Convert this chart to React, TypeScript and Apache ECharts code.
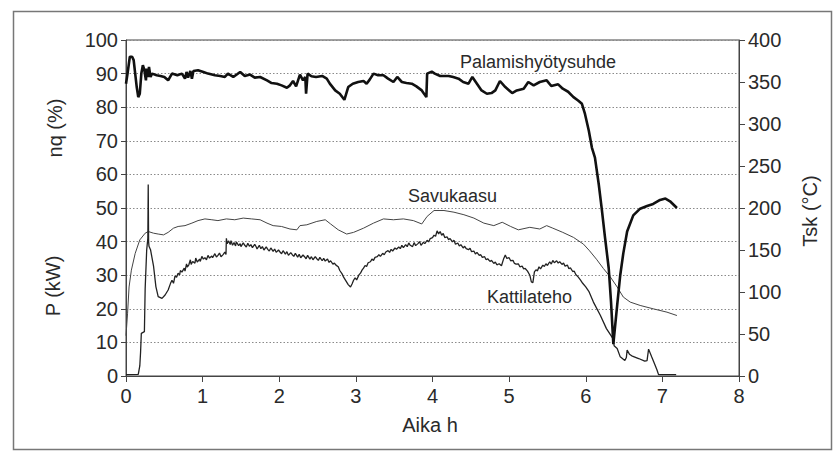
import React, { useEffect, useRef } from "react";
import * as echarts from "echarts";

// Time axis (h) ticks
const xTicks = [0, 1, 2, 3, 4, 5, 6, 7, 8];

// Palamishyötysuhde (%), [h, %]
const palamis: [number, number][] = [
  [0, 87], [0.02, 90], [0.05, 95], [0.08, 95], [0.1, 94], [0.12, 90], [0.14, 86], [0.16, 83], [0.18, 84],
  [0.2, 90], [0.22, 92.5], [0.24, 91], [0.26, 88], [0.27, 91.5], [0.29, 89], [0.3, 92], [0.32, 89], [0.34, 90],
  [0.4, 89.5], [0.45, 89.3], [0.5, 89], [0.55, 88], [0.6, 90], [0.67, 89.5], [0.73, 90], [0.77, 88.5],
  [0.79, 90.5], [0.81, 88.8], [0.84, 90.8], [0.86, 88.5], [0.88, 90.8], [0.94, 91], [1.01, 90.5], [1.07, 90],
  [1.16, 89.5], [1.23, 89.3], [1.29, 89], [1.33, 90], [1.4, 89], [1.45, 89.8], [1.49, 90.5], [1.55, 89.3],
  [1.62, 89.7], [1.68, 88.8], [1.75, 89], [1.84, 88], [1.9, 87.2], [1.97, 87], [2.03, 86.5], [2.1, 85.8],
  [2.14, 86.5], [2.18, 87.8], [2.22, 86.2], [2.27, 89.7], [2.31, 88], [2.34, 89], [2.35, 84], [2.37, 90],
  [2.42, 89.2], [2.48, 89], [2.56, 89.3], [2.62, 88.5], [2.66, 87], [2.73, 85], [2.79, 84], [2.85, 82.2],
  [2.9, 86], [2.96, 87], [3.03, 87.5], [3.1, 87.8], [3.14, 87], [3.18, 88.2], [3.23, 90], [3.29, 89.5],
  [3.36, 89.5], [3.42, 88.5], [3.49, 87.5], [3.54, 89], [3.6, 87.5], [3.66, 87.2], [3.73, 87], [3.79, 86.2],
  [3.86, 85], [3.92, 83], [3.93, 90], [3.99, 90.6], [4.03, 90], [4.1, 89.3], [4.21, 89.3], [4.27, 89],
  [4.34, 88.5], [4.4, 87.5], [4.47, 87], [4.52, 89], [4.58, 87], [4.64, 85], [4.71, 84], [4.77, 84.2],
  [4.82, 85], [4.88, 87.8], [4.95, 86], [5.04, 84.2], [5.1, 85], [5.19, 85.5], [5.25, 87.5], [5.32, 86.5],
  [5.4, 87.5], [5.49, 88], [5.55, 86.3], [5.64, 86.8], [5.7, 85.5], [5.77, 84.6], [5.84, 83], [5.9, 82],
  [5.95, 81], [5.99, 78], [6.04, 73], [6.08, 68], [6.12, 65], [6.17, 57], [6.21, 49.5], [6.25, 41.5],
  [6.3, 32], [6.33, 22], [6.36, 9.5], [6.41, 21], [6.45, 30], [6.49, 36.5], [6.54, 43], [6.62, 47.8],
  [6.71, 49.8], [6.8, 50.6], [6.88, 51.2], [6.97, 52.4], [7.04, 52.8], [7.1, 52], [7.19, 50],
];

// Savukaasu, flue gas temperature Tsk (°C), [h, °C]
const savukaasu: [number, number][] = [
  [0, 48], [0.02, 74], [0.04, 106], [0.07, 126], [0.12, 146], [0.18, 162], [0.25, 170], [0.29, 172],
  [0.36, 170], [0.42, 169], [0.49, 168], [0.55, 171], [0.62, 176], [0.68, 178], [0.77, 179], [0.86, 182],
  [0.94, 185], [1.03, 187], [1.12, 186], [1.2, 185], [1.31, 187], [1.42, 186], [1.53, 188], [1.64, 187],
  [1.75, 186], [1.84, 182], [1.92, 179], [2.03, 178], [2.14, 175], [2.23, 174], [2.27, 179], [2.36, 180],
  [2.49, 184], [2.6, 186], [2.67, 181], [2.77, 174], [2.88, 169], [2.97, 171], [3.1, 176], [3.23, 182],
  [3.36, 187], [3.49, 186], [3.62, 187], [3.75, 185], [3.86, 181], [3.93, 190], [4.02, 197], [4.15, 197],
  [4.28, 195], [4.41, 192], [4.54, 188], [4.67, 182], [4.8, 179], [4.91, 183], [5.02, 178], [5.12, 174],
  [5.27, 177], [5.4, 175], [5.49, 179], [5.57, 176], [5.7, 171], [5.84, 165], [5.97, 157], [6.05, 149],
  [6.14, 139], [6.23, 128], [6.32, 118], [6.41, 106], [6.49, 94], [6.58, 88], [6.71, 84], [6.88, 80],
  [7.06, 76], [7.19, 72],
];

// Kattilateho P (kW), [h, kW]
const kattilateho: [number, number][] = [
  [0, 0.4], [0.16, 0.5], [0.18, 3], [0.19, 7], [0.2, 12.7], [0.24, 13.2], [0.25, 26], [0.27, 37.5],
  [0.285, 41], [0.29, 57], [0.295, 40], [0.3, 38.6], [0.32, 37.6], [0.36, 32.6], [0.39, 26.6], [0.42, 23.6],
  [0.47, 23.1], [0.51, 24.1], [0.55, 25.6], [0.58, 27.5], [0.6, 28.5], [0.62, 27.6], [0.64, 29.8], [0.66, 29.4],
  [0.68, 30.6], [0.7, 30.1], [0.71, 31.4], [0.73, 30.9], [0.76, 32.1], [0.77, 31.2], [0.79, 33.4], [0.8, 32.4],
  [0.82, 33.1], [0.84, 34.6], [0.85, 33.2], [0.87, 34.1], [0.9, 33.6], [0.91, 35.1], [0.93, 33.9], [0.96, 34.8],
  [0.97, 34.1], [0.99, 35.6], [1.01, 34.8], [1.03, 35.2], [1.05, 34.6], [1.07, 35.9], [1.09, 35.1], [1.12, 35.7],
  [1.13, 35.2], [1.16, 36.4], [1.18, 35.4], [1.2, 35.9], [1.22, 36.6], [1.24, 35.5], [1.27, 36.2], [1.29, 36.9],
  [1.305, 36.2], [1.31, 41], [1.32, 39.4], [1.34, 40.2], [1.36, 39.1], [1.37, 40.3], [1.39, 38.9], [1.41, 39.7],
  [1.43, 38.7], [1.44, 39.9], [1.47, 38.8], [1.49, 39.4], [1.5, 38.5], [1.53, 39.6], [1.55, 38.9], [1.57, 38.4],
  [1.59, 39.5], [1.61, 38.6], [1.63, 39.1], [1.65, 38.2], [1.68, 39.2], [1.7, 38.4], [1.71, 37.8], [1.74, 38.9],
  [1.76, 37.9], [1.78, 38.5], [1.8, 37.5], [1.83, 38.4], [1.85, 37.7], [1.87, 37.2], [1.89, 38.1], [1.92, 37.1],
  [1.94, 37.8], [1.96, 36.8], [1.99, 37.5], [2.01, 36.9], [2.03, 36.4], [2.05, 37.3], [2.08, 36.3], [2.1, 37],
  [2.12, 35.9], [2.15, 36.7], [2.17, 36.1], [2.19, 35.6], [2.21, 36.5], [2.24, 35.4], [2.26, 36.2], [2.28, 35.2],
  [2.31, 36], [2.33, 35.5], [2.35, 34.9], [2.37, 35.9], [2.4, 34.8], [2.42, 35.5], [2.44, 34.6], [2.47, 35.5],
  [2.49, 34.9], [2.51, 34.4], [2.53, 35.3], [2.56, 34.3], [2.58, 35], [2.6, 34.2], [2.63, 34.8], [2.65, 33.8],
  [2.67, 34.3], [2.7, 33.3], [2.72, 33.6], [2.74, 33], [2.77, 32.5], [2.79, 31.4], [2.82, 30.4], [2.84, 29.4],
  [2.87, 28.3], [2.9, 27.2], [2.93, 26.5], [2.95, 27.4], [2.97, 28.5], [2.99, 29.2], [3.01, 28.6], [3.04, 30.1],
  [3.06, 30.6], [3.08, 31.5], [3.1, 32.1], [3.12, 32.9], [3.14, 32.6], [3.16, 33.7], [3.19, 34], [3.21, 34.8],
  [3.23, 34.4], [3.25, 35.3], [3.28, 35.5], [3.3, 36.1], [3.32, 35.6], [3.35, 36.5], [3.37, 36.1], [3.39, 36.9],
  [3.42, 37.3], [3.44, 36.8], [3.46, 37.7], [3.48, 37.2], [3.51, 38.1], [3.53, 37.7], [3.56, 38.4], [3.58, 37.9],
  [3.6, 38.9], [3.62, 38.2], [3.65, 39.1], [3.67, 38.5], [3.69, 39.6], [3.71, 38.9], [3.74, 38.5], [3.76, 39.7],
  [3.78, 38.8], [3.81, 39.4], [3.83, 40], [3.85, 38.9], [3.88, 39.8], [3.9, 39.4], [3.93, 40.4], [3.95, 39.9],
  [3.97, 40.9], [4.0, 41.2], [4.02, 41.9], [4.04, 41.6], [4.06, 43.2], [4.08, 42.3], [4.1, 43], [4.12, 41.9],
  [4.14, 42.4], [4.16, 41.2], [4.19, 41.4], [4.21, 40.6], [4.23, 40.9], [4.26, 39.9], [4.28, 40.4], [4.3, 39.2],
  [4.33, 39.6], [4.35, 38.7], [4.37, 39.1], [4.4, 38.1], [4.42, 38.6], [4.44, 37.9], [4.47, 37.6], [4.49, 38],
  [4.51, 37], [4.54, 37.2], [4.56, 36.3], [4.58, 36.8], [4.61, 35.9], [4.63, 36.1], [4.65, 35.3], [4.68, 35.5],
  [4.7, 34.6], [4.72, 34.9], [4.75, 34.1], [4.77, 34.4], [4.8, 33.5], [4.82, 33.9], [4.84, 33.1], [4.87, 33.4],
  [4.9, 32.8], [4.93, 35], [4.95, 36], [4.97, 35], [5.0, 35.2], [5.02, 34.3], [5.05, 34.4], [5.07, 33.5],
  [5.09, 33.3], [5.12, 33.4], [5.14, 32.5], [5.17, 32.7], [5.19, 31.9], [5.21, 32], [5.24, 31.2], [5.27, 30],
  [5.29, 28], [5.31, 27.8], [5.33, 31], [5.35, 31.6], [5.37, 31.3], [5.39, 32.5], [5.41, 31.9], [5.44, 33],
  [5.46, 32.6], [5.48, 33.4], [5.5, 32.9], [5.53, 34], [5.55, 33.3], [5.57, 34.4], [5.59, 33.7], [5.62, 34.3],
  [5.64, 33.6], [5.66, 34], [5.69, 33.2], [5.71, 33.6], [5.73, 32.7], [5.76, 33], [5.78, 31.9], [5.8, 32.2],
  [5.83, 31.1], [5.85, 31.2], [5.87, 30.2], [5.9, 29.5], [5.93, 28.6], [5.96, 27.6], [6.0, 26.5], [6.04, 25.2],
  [6.1, 22], [6.19, 18.1], [6.27, 14.1], [6.36, 11], [6.37, 9], [6.41, 8.2], [6.45, 5.7], [6.51, 4.6],
  [6.53, 5.5], [6.54, 7.7], [6.57, 6.5], [6.6, 6], [6.69, 5.2], [6.77, 4.4], [6.8, 4.6], [6.82, 8],
  [6.86, 5.7], [6.9, 3.5], [6.93, 1.8], [6.95, 0.4], [7.18, 0.4],
];

const FONT = "'Liberation Sans', Arial, Helvetica, sans-serif";
const TXT = "#2a2a2a";

export default function App() {
  const ref = useRef<HTMLDivElement>(null);
  useEffect(() => {
    if (!ref.current) return;
    const chart = echarts.init(ref.current, undefined, { renderer: "svg" });
    chart.setOption({
      animation: false,
      backgroundColor: "#ffffff",
      grid: {
        left: 126, right: 98, top: 40, bottom: 76,
        show: true, borderColor: "#444", borderWidth: 1, backgroundColor: "transparent",
      },
      xAxis: {
        type: "value", min: xTicks[0], max: xTicks[xTicks.length - 1], interval: 1,
        axisLine: { lineStyle: { color: "#444", width: 1 } },
        axisTick: { show: true, length: 6, lineStyle: { color: "#444" } },
        axisLabel: { fontSize: 20, color: TXT, fontFamily: FONT, margin: 10 },
        splitLine: { show: false },
      },
      yAxis: [
        {
          type: "value", min: 0, max: 100, interval: 10,
          axisLine: { show: true, lineStyle: { color: "#444", width: 1 } },
          axisTick: { show: true, length: 5, lineStyle: { color: "#444" } },
          axisLabel: { fontSize: 20, color: TXT, fontFamily: FONT, margin: 8 },
          splitLine: { show: true, lineStyle: { color: "#8a8a8a", type: [1.5, 2], width: 1 } },
        },
        {
          type: "value", min: 0, max: 400, interval: 50, position: "right",
          axisLine: { show: true, lineStyle: { color: "#444", width: 1 } },
          axisTick: { show: true, length: 6, lineStyle: { color: "#444" } },
          axisLabel: { fontSize: 20, color: TXT, fontFamily: FONT, margin: 9 },
          splitLine: { show: false },
        },
      ],
      series: [
        {
          name: "Savukaasu", type: "line", yAxisIndex: 1, data: savukaasu, showSymbol: false,
          lineStyle: { color: "#444", width: 1 }, z: 2,
        },
        {
          name: "Kattilateho", type: "line", yAxisIndex: 0, data: kattilateho, showSymbol: false,
          lineStyle: { color: "#222", width: 1.3 }, z: 3,
        },
        {
          name: "Palamishyötysuhde", type: "line", yAxisIndex: 0, data: palamis, showSymbol: false,
          lineStyle: { color: "#111", width: 2.6 }, z: 4,
        },
      ],
      graphic: [
        {
          type: "rect", left: 11, top: 9, silent: true, z: -10,
          shape: { width: 818, height: 438 },
          style: { fill: "none", stroke: "#777", lineWidth: 1.5 },
        },
        {
          type: "text", x: 55, y: 128, rotation: Math.PI / 2, silent: true,
          style: { text: "nq (%)", fontSize: 20, fontFamily: FONT, fill: TXT, align: "center", verticalAlign: "middle" },
        },
        {
          type: "text", x: 53, y: 286, rotation: Math.PI / 2, silent: true,
          style: { text: "P (kW)", fontSize: 20, fontFamily: FONT, fill: TXT, align: "center", verticalAlign: "middle" },
        },
        {
          type: "text", x: 810, y: 211, rotation: Math.PI / 2, silent: true,
          style: { text: "Tsk (°C)", fontSize: 20, fontFamily: FONT, fill: TXT, align: "center", verticalAlign: "middle" },
        },
        {
          type: "text", x: 430, y: 425, silent: true,
          style: { text: "Aika h", fontSize: 20, fontFamily: FONT, fill: TXT, align: "center", verticalAlign: "middle" },
        },
        {
          type: "text", x: 460, y: 62, silent: true,
          style: { text: "Palamishyötysuhde", fontSize: 18, fontFamily: FONT, fill: TXT, align: "left", verticalAlign: "middle" },
        },
        {
          type: "text", x: 408, y: 196, silent: true,
          style: { text: "Savukaasu", fontSize: 18, fontFamily: FONT, fill: TXT, align: "left", verticalAlign: "middle" },
        },
        {
          type: "text", x: 487, y: 297, silent: true,
          style: { text: "Kattilateho", fontSize: 18, fontFamily: FONT, fill: TXT, align: "left", verticalAlign: "middle" },
        },
      ],
    });
    return () => chart.dispose();
  }, []);
  return (
    <div
      ref={ref}
      style={{ position: "fixed", left: 0, top: 0, width: 837, height: 452, background: "#fff" }}
    />
  );
}
